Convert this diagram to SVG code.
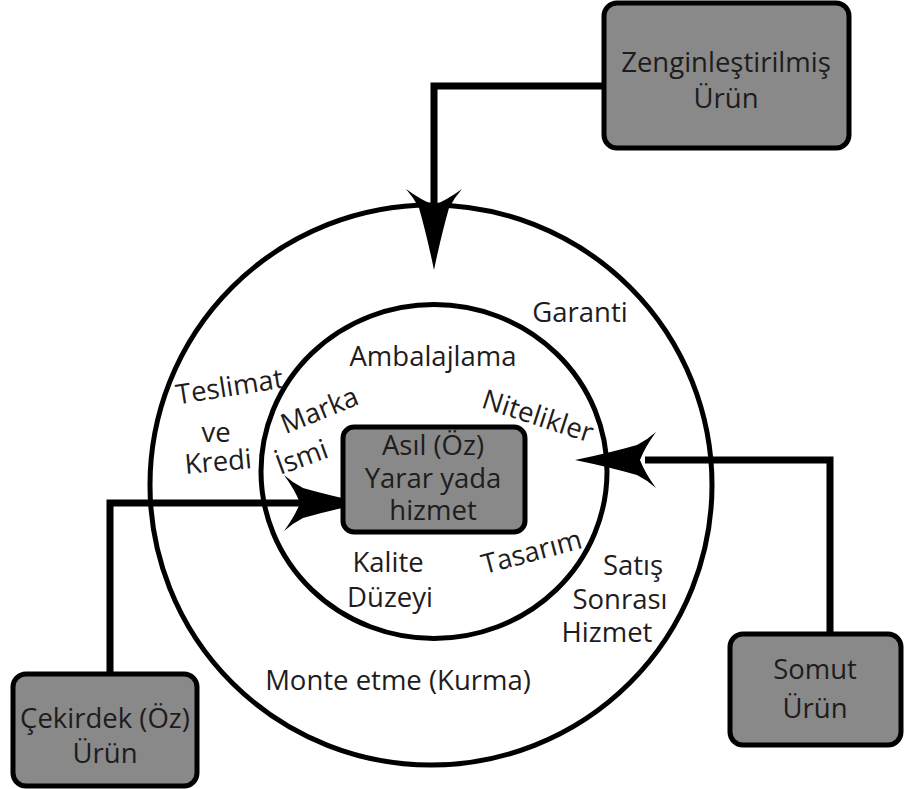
<svg xmlns="http://www.w3.org/2000/svg" width="905" height="789" viewBox="0 0 905 789">
  <style>
    .ring { fill: none; stroke: #000; stroke-width: 5; }
    .box { fill: #898989; stroke: #000; stroke-width: 5; }
    .wire { fill: none; stroke: #000; stroke-width: 7; stroke-linejoin: miter; }
    .head { fill: #000; }
    text { font-family: "Open Sans", "Noto Sans", "DejaVu Sans", sans-serif; font-size: 27.5px; fill: #1e1c1d; text-anchor: middle; }
  </style>
  <defs>
    <!-- barbed arrowhead pointing right, tip at the origin -->
    <path id="barb" class="head" d="M0,0 Q-34,-7 -62,-15 Q-72,-20 -81,-28 Q-70,-13 -65,0 Q-70,13 -81,28 Q-72,20 -62,15 Q-34,7 0,0 Z"/>
  </defs>

  <!-- product levels -->
  <g id="levels">
    <ellipse class="ring" cx="431" cy="485" rx="281" ry="280"/>
    <ellipse class="ring" cx="434" cy="471.5" rx="173" ry="167"/>
  </g>

  <!-- connectors -->
  <g id="connectors">
    <polyline class="wire" points="604,86 434,86 434,210"/>
    <use href="#barb" transform="translate(434,270) rotate(90)"/>
    <polyline class="wire" points="830,634 830,460 645,460"/>
    <use href="#barb" transform="translate(575,460) rotate(180)"/>
    <polyline class="wire" points="110,674 110,503 300,503"/>
    <use href="#barb" transform="translate(365,503)"/>
  </g>

  <g id="core">
    <rect class="box" x="343" y="427" width="182" height="105" rx="11"/>
    <text x="433" y="455">Asıl (Öz)</text>
    <text x="433" y="488">Yarar yada</text>
    <text x="433" y="520">hizmet</text>
  </g>

  <g id="augmented">
    <rect class="box" x="604" y="3" width="245" height="145" rx="13"/>
    <text x="726" y="72">Zenginleştirilmiş</text>
    <text x="726" y="108">Ürün</text>
  </g>

  <g id="actual">
    <rect class="box" x="730" y="634" width="171" height="111" rx="13"/>
    <text x="815" y="679">Somut</text>
    <text x="815" y="718">Ürün</text>
  </g>

  <g id="kernel">
    <rect class="box" x="13" y="674" width="184" height="112" rx="13"/>
    <text x="105" y="728">Çekirdek (Öz)</text>
    <text x="105" y="763">Ürün</text>
  </g>

  <!-- ring labels -->
  <g id="labels">
    <text x="580" y="322">Garanti</text>
    <text x="433" y="366">Ambalajlama</text>
    <text x="231" y="396" transform="rotate(-9 231 396)">Teslimat</text>
    <text x="216" y="442">ve</text>
    <text x="219" y="471" transform="rotate(-5 219 471)">Kredi</text>
    <text x="323" y="419" transform="rotate(-22 323 419)">Marka</text>
    <text x="305" y="466" transform="rotate(-20 305 466)">İsmi</text>
    <text x="535" y="425" transform="rotate(18 535 425)">Nitelikler</text>
    <text x="388" y="572">Kalite</text>
    <text x="390" y="607">Düzeyi</text>
    <text x="534" y="561" transform="rotate(-15 534 561)">Tasarım</text>
    <text x="633" y="575">Satış</text>
    <text x="620" y="609">Sonrası</text>
    <text x="607" y="642">Hizmet</text>
    <text x="398" y="690">Monte etme (Kurma)</text>
  </g>
</svg>
